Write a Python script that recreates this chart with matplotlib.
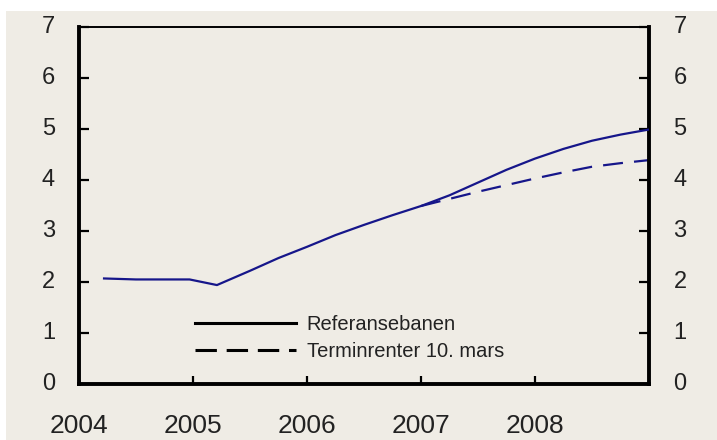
import matplotlib
matplotlib.use("Agg")
import matplotlib.pyplot as plt
from matplotlib.lines import Line2D
from matplotlib.patches import Rectangle

# Data
ref_x = [2004.21, 2004.5, 2004.75, 2004.97, 2005.21, 2005.5, 2005.75, 2006.0, 2006.25,
         2006.5, 2006.75, 2007.0, 2007.25, 2007.5, 2007.75, 2008.0, 2008.25, 2008.5,
         2008.75, 2009.0]
ref_y = [2.07, 2.05, 2.05, 2.05, 1.94, 2.22, 2.47, 2.69, 2.92,
         3.12, 3.31, 3.49, 3.70, 3.95, 4.20, 4.42, 4.61, 4.77,
         4.89, 4.99]
term_x = [2007.0, 2007.25, 2007.5, 2007.75, 2008.0, 2008.25, 2008.5, 2008.75, 2009.0]
term_y = [3.49, 3.63, 3.77, 3.90, 4.03, 4.15, 4.26, 4.33, 4.39]
legend_labels = ["Referansebanen", "Terminrenter 10. mars"]
x_ticks = [2004, 2005, 2006, 2007, 2008]
y_ticks = [0, 1, 2, 3, 4, 5, 6, 7]

BG = "#EFECE5"
LINE = "#16168A"
TXT = "#222222"

plt.rcParams['font.family'] = ['Liberation Sans', 'DejaVu Sans']

fig = plt.figure(figsize=(7.17, 4.40), dpi=100, facecolor="white")
fig.patches.append(Rectangle((6 / 717, 0), 1, 1 - 11 / 440, transform=fig.transFigure,
                             facecolor=BG, edgecolor="none", zorder=-10))
ax = fig.add_axes([79 / 717, 1 - 384 / 440, (649 - 79) / 717, (384 - 27) / 440])
ax.set_facecolor(BG)

ax.plot(ref_x, ref_y, color=LINE, lw=1.6, solid_capstyle="butt", zorder=3)
ax.plot(term_x, term_y, color=LINE, lw=1.6, linestyle=(0, (9, 5)), zorder=2)

ax.set_xlim(2004, 2009)
ax.set_ylim(0, 7)
ax.set_xticks(x_ticks[1:])
ax.set_xticklabels([])
ax.set_yticks(y_ticks)
ax.set_yticklabels([])

for s in ["left", "bottom", "right"]:
    ax.spines[s].set_linewidth(2.8)
ax.spines["top"].set_linewidth(1.4)
for s in ax.spines.values():
    s.set_color("black")

ax.tick_params(axis="y", direction="in", length=7, width=1.6, left=True, right=True,
               labelleft=False, labelright=False)
ax.tick_params(axis="x", direction="in", length=6, width=1.6, bottom=True, top=False,
               labelbottom=False)

# Tick labels as text
for v in y_ticks:
    ax.text(-0.042, v, str(v), transform=ax.get_yaxis_transform(), ha="right",
            va="center", fontsize=17, color=TXT)
    ax.text(1.043, v, str(v), transform=ax.get_yaxis_transform(), ha="left",
            va="center", fontsize=17, color=TXT)
for v in x_ticks:
    ax.text(v, -0.118, str(v), transform=ax.get_xaxis_transform(), ha="center",
            va="center", fontsize=19, color=TXT)

handles = [Line2D([], [], color="black", lw=2.2),
           Line2D([], [], color="black", lw=2.2, linestyle=(0, (7, 3.2)))]
leg = ax.legend(handles, legend_labels, loc="upper left", frameon=False,
                fontsize=14.5, handlelength=5.0, handletextpad=0.55, labelspacing=0.38,
                borderaxespad=0, borderpad=0)
leg.set_bbox_to_anchor((195 / 717, 1 - 315 / 440), transform=fig.transFigure)
for t in leg.get_texts():
    t.set_color(TXT)

fig.savefig("out.png", dpi=100, facecolor=fig.get_facecolor())
